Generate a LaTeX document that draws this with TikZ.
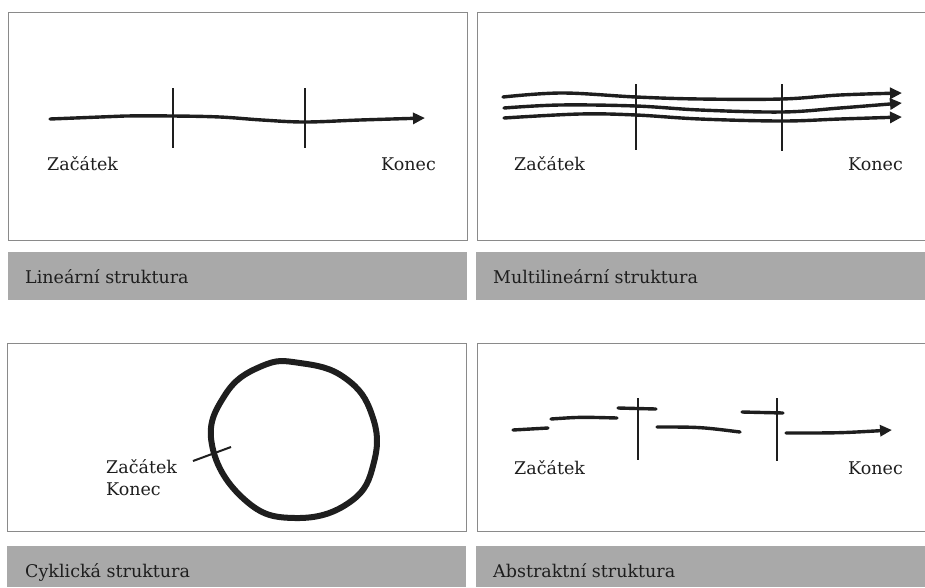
\documentclass[tikz,border=0pt]{standalone}
\usepackage{fontspec}
\setmainfont{DejaVu Serif}
\usetikzlibrary{arrows.meta}
\definecolor{ink}{HTML}{1E1E1E}
\definecolor{barfill}{HTML}{A9A9A9}
\definecolor{frame}{HTML}{8A8A8A}
\tikzset{
  panel/.style={draw=frame, line width=0.8pt},
  bar/.style={fill=barfill, draw=none},
  bartext/.style={anchor=base west, inner sep=0pt, text=ink, font=\fontsize{17.5}{20}\selectfont},
  lab/.style={inner sep=0pt, text=ink, font=\fontsize{17.5}{20}\selectfont},
  stroke/.style={draw=ink, line width=3.4pt, line cap=round, line join=round},
  tick/.style={draw=ink, line width=2pt},
  arrowed/.style={stroke, -{Triangle[length=12pt,width=11pt]}},
}
\begin{document}
\begin{tikzpicture}[x=1pt,y=-1pt]
\useasboundingbox (0,0) rectangle (925,587);
% panels
\draw[panel] (8,12) rectangle (467,240);
\draw[panel] (925,12) -- (477,12) -- (477,240) -- (925,240);
\draw[panel] (7,343) rectangle (466,531);
\draw[panel] (925,343) -- (477,343) -- (477,531) -- (925,531);
% bars
\fill[bar] (8,252) rectangle (467,300);
\fill[bar] (476,252) rectangle (925,300);
\fill[bar] (7,546) rectangle (466,587);
\fill[bar] (476,546) rectangle (925,587);
\node[bartext] (t1) at (25,283) {Lineární struktura};
\node[bartext] (t2) at (493,283) {Multilineární struktura};
\node[bartext] (t3) at (25,577) {Cyklická struktura};
\node[bartext] (t4) at (493,577) {Abstraktní struktura};

% ---- linear
\draw[arrowed] plot[smooth, tension=0.6] coordinates {(50,119) (100,117) (125,116) (173,116) (220,117) (262,120) (305,122) (360,120) (425,118)};
\draw[tick] (173,88) -- (173,148);
\draw[tick] (305,88) -- (305,148);
\node[lab, anchor=base west] (s1) at (47,170) {Začátek};
\node[lab, anchor=base east] (e1) at (436,170) {Konec};

% ---- multilinear
\draw[arrowed] plot[smooth, tension=0.6] coordinates {(503,97) (562,93) (636,97) (700,99) (782,99) (840,95) (902,93)};
\draw[arrowed] plot[smooth, tension=0.6] coordinates {(504,108) (560,105) (636,106) (700,110) (782,112) (840,108) (902,103)};
\draw[arrowed] plot[smooth, tension=0.6] coordinates {(504,118) (580,114) (636,115) (700,119) (782,121) (840,119) (902,117)};
\draw[tick] (636,84) -- (636,150);
\draw[tick] (782,84) -- (782,151);
\node[lab, anchor=base west] (s2) at (514,170) {Začátek};
\node[lab, anchor=base east] (e2) at (903,170) {Konec};

% ---- cyclic
\draw[draw=ink, line width=6pt] plot[smooth cycle, tension=0.75] coordinates {(212,445) (225,395) (262,366) (300,363) (345,378) (372,415) (374,462) (350,502) (295,518) (245,500)};
\draw[tick] (193,461) -- (231,447);
\node[lab, anchor=base west] (s3) at (106,473) {Začátek};
\node[lab, anchor=base west] (e3) at (106,495) {Konec};

% ---- abstract
\draw[stroke] (513,430) -- (548,428);
\draw[stroke] (551,419) .. controls (580,417) .. (617,418);
\draw[stroke] (618,408) -- (656,409);
\draw[tick] (638,398) -- (638,460);
\draw[stroke] (657,427) .. controls (700,427) .. (740,432);
\draw[stroke] (742,412) -- (783,413);
\draw[tick] (777,398) -- (777,461);
\draw[arrowed] (786,433) .. controls (840,433) .. (892,430);
\node[lab, anchor=base west] (s4) at (514,474) {Začátek};
\node[lab, anchor=base east] (e4) at (903,474) {Konec};
\end{tikzpicture}
\end{document}
